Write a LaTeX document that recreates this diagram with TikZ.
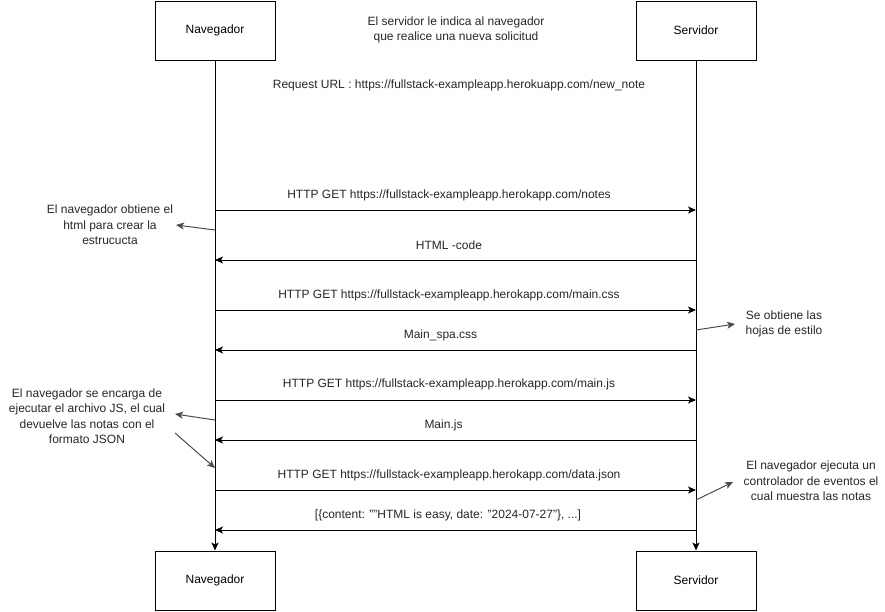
\documentclass[tikz,border=0pt]{standalone}
\usepackage{fontspec}
\setmainfont{Liberation Sans}
\usetikzlibrary{arrows.meta}
\begin{document}
\begin{tikzpicture}[x=1pt,y=-1pt,
  actor/.style={draw,line width=1pt,minimum width=120pt,minimum height=59pt,inner sep=0pt,font=\fontsize{12}{14}\selectfont},
  lbl/.style={font=\fontsize{12}{15.5}\selectfont,align=center,inner sep=0pt,text=black!85},
  msg/.style={line width=1pt,-{Stealth[length=8pt,width=7pt,inset=2pt]}},
  life/.style={line width=1pt,-{Stealth[length=8pt,width=7pt,inset=2pt]}},
  note/.style={line width=1pt,draw=black!70,-{Stealth[length=8pt,width=7pt,inset=2pt]}}]
\useasboundingbox (0,0) rectangle (885,611);
% actors
\node[actor] (nt) at (215,30.5) {Navegador};
\node[actor] (st) at (696,30.5) {Servidor};
\node[actor] (nb) at (215,580.5) {Navegador};
\node[actor] (sb) at (696,580.5) {Servidor};
\draw[life] (nt.south) -- (nb.north);
\draw[life] (st.south) -- (sb.north);
% header texts
\node[lbl] (t1) at (456,30) {El servidor le indica al navegador\\que realice una nueva solicitud};
\node[lbl] (t2) at (459,85) {Request URL : https://fullstack-exampleapp.herokuapp.com/new\_note};
% message anchor points
\foreach \n/\y in {1/210,2/260,3/310,4/350,5/400,6/440,7/490,8/530}{
  \coordinate (L\n) at (215,\y);
  \coordinate (R\n) at (696,\y);
}
\draw[msg] (L1) -- (R1);
\draw[msg] (R2) -- (L2);
\draw[msg] (L3) -- (R3);
\draw[msg] (R4) -- (L4);
\draw[msg] (L5) -- (R5);
\draw[msg] (R6) -- (L6);
\draw[msg] (L7) -- (R7);
\draw[msg] (R8) -- (L8);
\node[lbl] (m1) at (449,195) {HTTP GET https://fullstack-exampleapp.herokapp.com/notes};
\node[lbl] (m2) at (449,245) {HTML -code};
\node[lbl] (m3) at (449,295) {HTTP GET https://fullstack-exampleapp.herokapp.com/main.css};
\node[lbl] (m4) at (440.5,335) {Main\_spa.css};
\node[lbl] (m5) at (449,384) {HTTP GET https://fullstack-exampleapp.herokapp.com/main.js};
\node[lbl] (m6) at (443.5,425) {Main.js};
\node[lbl] (m7) at (449,475) {HTTP GET https://fullstack-exampleapp.herokapp.com/data.json};
\node[lbl] (m8) at (448,515) {[\{content: \char34\char34HTML is easy, date: \char34 2024-07-27\char34\}, ...]};
% annotations
\node[lbl] (a1) at (110,225) {El navegador obtiene el\\html para crear la\\estrucucta};
\coordinate (a1s) at (215,230);
\coordinate (a1e) at (176,225);
\draw[note] (a1s) -- (a1e);
\node[lbl] (a2) at (87,416) {El navegador se encarga de\\ejecutar el archivo JS, el cual\\devuelve las notas con el\\formato JSON};
\coordinate (a2s) at (215,420);
\coordinate (a2e) at (175,414);
\draw[note] (a2s) -- (a2e);
\coordinate (a3s) at (175,433);
\coordinate (a3e) at (215,468);
\draw[note] (a3s) -- (a3e);
\node[lbl] (a4) at (784,324) {Se obtiene las\\hojas de estilo};
\coordinate (a4s) at (696,330);
\coordinate (a4e) at (735,324);
\draw[note] (a4s) -- (a4e);
\node[lbl] (a5) at (811,481) {El navegador ejecuta un\\controlador de eventos el\\cual muestra las notas};
\coordinate (a5s) at (696,500);
\coordinate (a5e) at (733,482);
\draw[note] (a5s) -- (a5e);
\end{tikzpicture}
\end{document}
